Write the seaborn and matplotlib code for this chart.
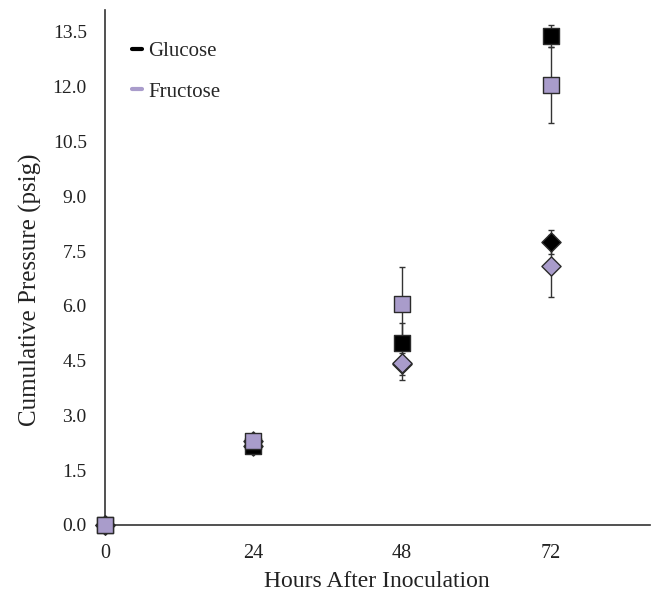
import numpy as np
import pandas as pd
import seaborn as sns
import matplotlib.pyplot as plt
from matplotlib.lines import Line2D

# ---- data ----
hours = [0, 24, 48, 72]
glucose_sq = [0.0, 2.15, 4.98, 13.40]
glucose_sq_err = [0.0, 0.05, 0.55, 0.30]
fructose_sq = [0.0, 2.30, 6.05, 12.05]
fructose_sq_err = [0.0, 0.05, 1.00, 1.05]
glucose_dm = [0.0, 2.15, 4.40, 7.75]
glucose_dm_err = [0.0, 0.05, 0.30, 0.33]
fructose_dm = [0.0, 2.30, 4.42, 7.10]
fructose_dm_err = [0.0, 0.05, 0.45, 0.85]

yticks = [0.0, 1.5, 3.0, 4.5, 6.0, 7.5, 9.0, 10.5, 12.0, 13.5]

BLACK = "#000000"
LAVENDER = "#A99CCB"

rows = []
for sugar, kind, vals, errs in [
    ("Glucose", "diamond", glucose_dm, glucose_dm_err),
    ("Fructose", "diamond", fructose_dm, fructose_dm_err),
    ("Glucose", "square", glucose_sq, glucose_sq_err),
    ("Fructose", "square", fructose_sq, fructose_sq_err),
]:
    for h, v, e in zip(hours, vals, errs):
        rows.append({"Hours": h, "Sugar": sugar, "Kind": kind, "Pressure": v, "Err": e})
df = pd.DataFrame(rows)

sns.set_style("white")
plt.rcParams["font.family"] = ["Liberation Serif", "DejaVu Serif"]

fig = plt.figure(figsize=(6.55, 5.93), dpi=100)
ax = fig.add_axes([0.160, 0.115, 0.832, 0.868])

# error bars first, underneath the markers
for _, r in df.iterrows():
    if r["Err"] > 0:
        ax.errorbar(r["Hours"], r["Pressure"], yerr=r["Err"], fmt="none",
                    ecolor="#333333", elinewidth=1.0, capsize=2.5, capthick=1.0,
                    zorder=1)

palette = {"Glucose": BLACK, "Fructose": LAVENDER}
for kind, marker, size in [("diamond", "D", 95), ("square", "s", 130)]:
    for sugar in ["Glucose", "Fructose"]:
        sub = df[(df["Kind"] == kind) & (df["Sugar"] == sugar)]
        sns.scatterplot(data=sub, x="Hours", y="Pressure", color=palette[sugar],
                        marker=marker, s=size, edgecolor="#2b2b2b", linewidth=1.0,
                        ax=ax, legend=False, zorder=3, clip_on=False)

ax.set_xlim(0, 88)
ax.set_ylim(0, 14.1)
ax.set_xticks(hours)
ax.set_yticks(yticks)
ax.set_yticklabels([f"{t:.1f}" for t in yticks])
ax.tick_params(axis="y", labelsize=14, length=0, pad=13, colors="#222222")
ax.tick_params(axis="x", labelsize=14.5, length=0, pad=14, colors="#222222")
ax.set_xlabel("Hours After Inoculation", fontsize=17, color="#222222")
ax.set_ylabel("Cumulative Pressure (psig)", fontsize=18, color="#222222")
ax.xaxis.set_label_coords(0.5, -0.09)
ax.yaxis.set_label_coords(-0.115, 0.456)

for side in ["top", "right"]:
    ax.spines[side].set_visible(False)
for side in ["left", "bottom"]:
    ax.spines[side].set_color("#333333")
    ax.spines[side].set_linewidth(1.2)

handles = [Line2D([0], [0], color=BLACK, lw=3),
           Line2D([0], [0], color=LAVENDER, lw=3)]
ax.legend(handles, ["Glucose", "Fructose"], loc="upper left",
          bbox_to_anchor=(0.015, 0.975), frameon=False, fontsize=15,
          handlelength=0.5, handletextpad=0.3, labelspacing=1.0)

fig.savefig("out.png", dpi=100)
